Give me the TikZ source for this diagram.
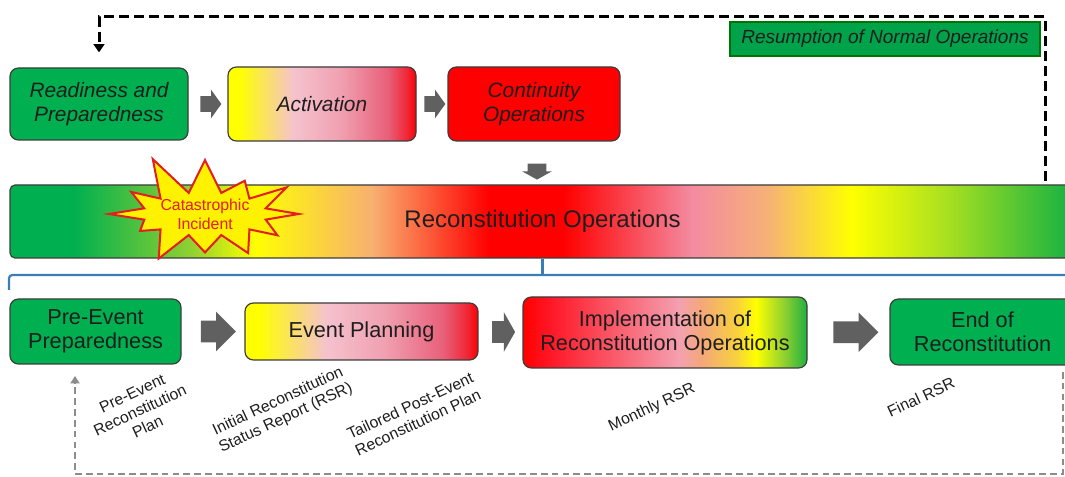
\documentclass[tikz,border=0pt]{standalone}
\usepackage{fontspec}
\setmainfont{Liberation Sans}
\usetikzlibrary{positioning,calc,arrows.meta,shapes.arrows,shapes.symbols}

\definecolor{cgreen}{HTML}{00B050}
\definecolor{cgreenb}{HTML}{12B044}
\definecolor{cred}{HTML}{FF0000}
\definecolor{cpink}{HTML}{F48AA0}
\definecolor{cborder}{HTML}{3C3C3C}
\definecolor{ctext}{HTML}{1E1E1E}
\definecolor{carrow}{HTML}{606060}
\definecolor{cblue}{HTML}{3B7DB5}
\definecolor{cfeed}{HTML}{8C8C8C}
\definecolor{cburst}{HTML}{E41E1E}

% shadings: the box spans 25bp..75bp
\pgfdeclarehorizontalshading{actshade}{100bp}{%
  color(0bp)=(yellow); color(25bp)=(yellow); color(28bp)=(yellow);
  color(42.5bp)=(rgb,255:red,245;green,194;blue,206);
  color(55bp)=(rgb,255:red,240;green,160;blue,176);
  color(67.5bp)=(rgb,255:red,232;green,96;blue,122);
  color(72.5bp)=(rgb,255:red,240;green,40;blue,56);
  color(75bp)=(cred); color(100bp)=(cred)}
\pgfdeclarehorizontalshading{implshade}{100bp}{%
  color(0bp)=(cred); color(25bp)=(cred);
  color(30bp)=(rgb,255:red,255;green,24;blue,40);
  color(52.5bp)=(rgb,255:red,244;green,160;blue,176);
  color(56.5bp)=(rgb,255:red,244;green,168;blue,120);
  color(62.5bp)=(rgb,255:red,248;green,208;blue,64);
  color(66bp)=(yellow);
  color(71bp)=(rgb,255:red,144;green,208;blue,48);
  color(75bp)=(rgb,255:red,32;green,176;blue,64); color(100bp)=(rgb,255:red,32;green,176;blue,64)}
\pgfdeclarehorizontalshading{reconshade}{100bp}{%
  color(0bp)=(cgreen); color(25bp)=(cgreen); color(28bp)=(cgreen);
  color(33.5bp)=(rgb,255:red,144;green,208;blue,48);
  color(36.5bp)=(yellow);
  color(42bp)=(rgb,255:red,248;green,176;blue,112);
  color(47.5bp)=(cred); color(51bp)=(cred);
  color(57bp)=(cpink);
  color(60.5bp)=(rgb,255:red,246;green,176;blue,120);
  color(64.5bp)=(yellow);
  color(69bp)=(rgb,255:red,168;green,224;blue,32);
  color(75bp)=(cgreenb); color(100bp)=(cgreenb)}

\tikzset{
  stage/.style={draw=cborder, line width=0.7pt, rounded corners=5pt,
    align=center, text=ctext, inner sep=0pt},
  topstage/.style={stage, font=\itshape\fontsize{12.5}{14.5}\selectfont},
  lowstage/.style={stage, font=\fontsize{13}{14.5}\selectfont},
  blockarrow/.style={single arrow, fill=carrow, draw=none, inner xsep=0pt,
    single arrow head indent=0pt},
  toparrow/.style={blockarrow, minimum height=12.6pt, inner ysep=4.5pt,
    single arrow head extend=3.9pt, single arrow tip angle=109},
  lowarrow/.style={blockarrow, inner ysep=6.3pt,
    single arrow head extend=5.4pt, single arrow tip angle=90},
  burst/.style={starburst, starburst points=12, starburst point height=26pt,
    random starburst=11, fill=yellow, draw=cburst, line width=1.2pt,
    text=cburst, align=center, inner sep=0pt, minimum width=126pt,
    minimum height=68pt, font=\fontsize{9.5}{11.5}\selectfont},
  docnote/.style={rotate=25, align=center, text=ctext,
    font=\fontsize{9.5}{11}\selectfont},
  returnline/.style={draw=black, line width=1.8pt, dash pattern=on 6pt off 3pt,
    -{Triangle[width=6.5pt,length=5pt]}},
  feedline/.style={draw=cfeed, line width=1.3pt, dash pattern=on 4pt off 2.5pt,
    -{Triangle[width=5.5pt,length=4.5pt]}},
  bracket/.style={draw=cblue, line width=1.3pt}
}

\begin{document}
\begin{tikzpicture}[x=0.6pt,y=-0.6pt]
\useasboundingbox (0,0) rectangle (1065,477);

% upper row
\node[topstage, fill=cgreen, minimum width=106.8pt, minimum height=43.2pt]
  (ready) at (99,104) {Readiness and\\Preparedness};
\node[topstage, shading=actshade, minimum width=112.8pt, minimum height=44.4pt]
  (activ) at (322,104) {Activation};
\node[topstage, fill=cred, minimum width=103.2pt, minimum height=44.4pt]
  (contin) at (534,104) {Continuity\\Operations};
\node[toparrow] (a1) at ($(ready.east)!0.5!(activ.west)$) {};
\node[toparrow] (a2) at ($(activ.east)!0.5!(contin.west)$) {};

\node[draw=black!55!green, line width=0.7pt, fill=cgreen!92!black, text=ctext,
  minimum width=186pt, minimum height=20.4pt, inner sep=0pt,
  font=\itshape\fontsize{11.4}{13}\selectfont]
  (resume) at (885,39) {Resumption of Normal Operations};

% reconstitution bar
\node[stage, shading=reconshade, rounded corners=3pt, minimum width=639pt,
  minimum height=43.8pt, font=\fontsize{14.4}{16}\selectfont]
  (recon) at (542.5,221.5) {Reconstitution Operations};
\node[blockarrow, rotate=-90, minimum height=9.6pt, inner ysep=5.4pt,
  single arrow head extend=3.3pt, single arrow tip angle=122]
  (a0) at (537,169) {};
\node[burst] (cat) at (205,214) {Catastrophic\\Incident};

\coordinate (rstart) at (1045,181);
\coordinate (rtop) at (99,17);
\draw[returnline] (rstart) |- (rtop) -- ([yshift=9pt]ready.north);

% bracket
\coordinate (brk) at (1075,275);
\draw[bracket, rounded corners=2pt] (9,290) |- (brk);
\draw[bracket] (recon.south) -- (recon.south |- brk);

% lower row
\node[lowstage, fill=cgreen, minimum width=102.6pt, minimum height=39pt]
  (preev) at (95.5,331.5) {Pre-Event\\Preparedness};
\node[lowstage, shading=actshade, minimum width=139.8pt, minimum height=34.2pt]
  (evplan) at (361.5,331.5) {Event Planning};
\node[lowstage, shading=implshade, minimum width=170.4pt, minimum height=42.6pt]
  (implem) at (665,332.5) {Implementation of\\Reconstitution Operations};
\node[lowstage, fill=cgreen, minimum width=111pt, minimum height=39.6pt]
  (endrec) at (982.5,332) {End of\\Reconstitution};

\node[lowarrow, minimum height=21pt] (b1) at ($(preev.east)!0.5!(evplan.west)$) {};
\node[lowarrow, minimum height=13.8pt, single arrow tip angle=121]
  (b2) at ($(evplan.east)!0.5!(implem.west)$) {};
\node[lowarrow, minimum height=27pt] (b3) at ($(implem.east)!0.5!(endrec.west)+(2,0)$) {};

% documents
\node[docnote] (n1) at (140,410) {Pre-Event\\Reconstitution\\Plan};
\node[docnote] (n2) at (282,410) {Initial Reconstitution\\Status Report (RSR)};
\node[docnote] (n3) at (414,414) {Tailored Post-Event\\Reconstitution Plan};
\node[docnote] (n4) at (652,408) {Monthly RSR};
\node[docnote] (n5) at (921,397) {Final RSR};

\coordinate (fstart) at (1063,372);
\coordinate (fbot) at (75,474);
\coordinate (ftip) at (75,376);
\draw[feedline] (fstart) |- (fbot) -- (ftip);

\end{tikzpicture}
\end{document}
